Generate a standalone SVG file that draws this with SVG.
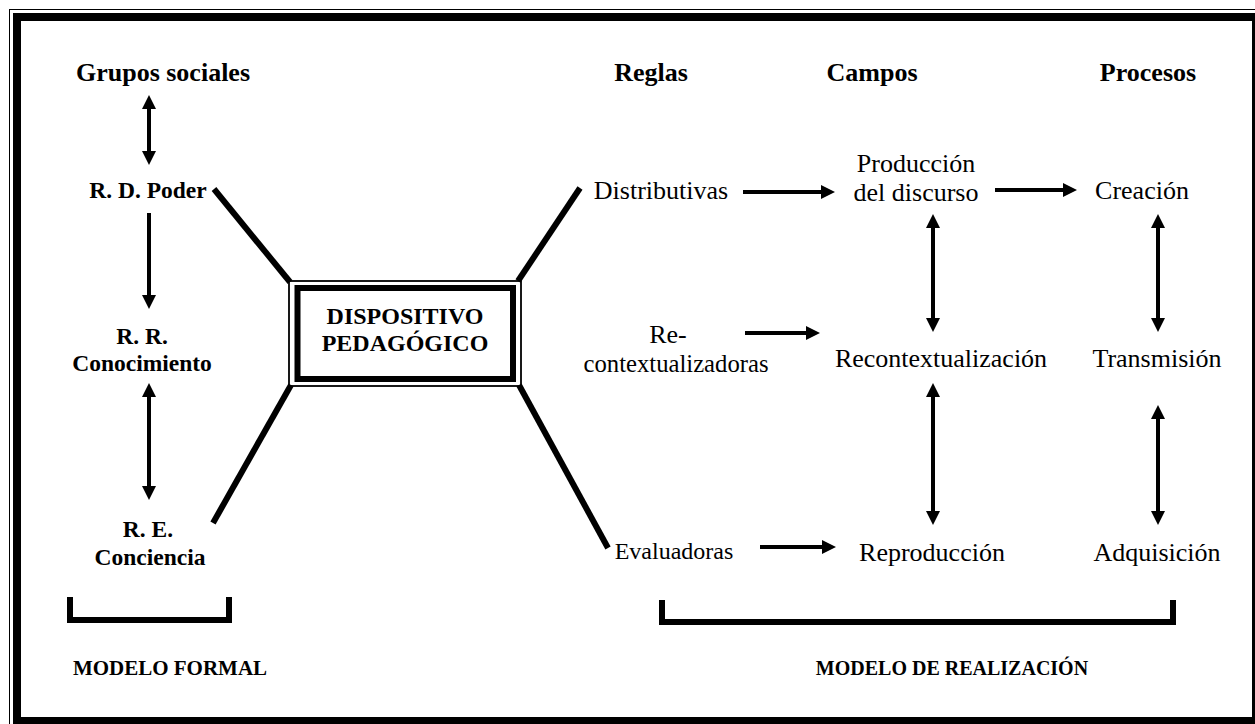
<svg xmlns="http://www.w3.org/2000/svg" width="1255" height="724" viewBox="0 0 1255 724">
<style>
.hd{font-family:"Liberation Serif","Times New Roman",serif;font-weight:bold;font-size:26px;text-anchor:middle;fill:#000}
.lb{font-family:"Liberation Serif","Times New Roman",serif;font-weight:bold;font-size:23.5px;text-anchor:middle;fill:#000}
.bx{font-family:"Liberation Serif","Times New Roman",serif;font-weight:bold;font-size:24px;text-anchor:middle;fill:#000}
.rg{font-family:"Liberation Serif","Times New Roman",serif;font-size:26px;text-anchor:middle;fill:#000}
.md{font-family:"Liberation Serif","Times New Roman",serif;font-weight:bold;text-anchor:middle;fill:#000}
.ar{stroke:#000;stroke-width:4;fill:none}
.ln{stroke:#000;stroke-width:6;fill:none}
</style>
<defs>
<marker id="ah" viewBox="0 0 14 14" markerUnits="userSpaceOnUse" markerWidth="14" markerHeight="14" refX="2" refY="7" orient="auto-start-reverse">
<path d="M0,0 L14,7 L0,14 z" fill="#000"/>
</marker>
</defs>
<rect width="1255" height="724" fill="#fff"/>
<g id="frame">
<rect x="9.5" y="9.5" width="1260" height="720" fill="none" stroke="#000" stroke-width="1"/>
<rect x="17" y="17" width="1239" height="704" fill="none" stroke="#000" stroke-width="8"/>
</g>
<g id="headers">
<text class="hd" x="163" y="81">Grupos sociales</text>
<text class="hd" x="651" y="81">Reglas</text>
<text class="hd" x="872" y="81">Campos</text>
<text class="hd" x="1148" y="81">Procesos</text>
</g>
<g id="n-poder"><text class="lb" x="148" y="198">R. D. Poder</text></g>
<g id="n-conocimiento"><text class="lb" x="142" y="344">R. R.</text><text class="lb" x="142" y="371">Conocimiento</text></g>
<g id="n-conciencia"><text class="lb" x="148" y="537">R. E.</text><text class="lb" x="150" y="565">Conciencia</text></g>
<g id="n-dispositivo">
<rect x="289" y="281" width="232" height="105" fill="#fff" stroke="#000" stroke-width="1.8"/>
<rect x="297.5" y="288" width="215.5" height="91" fill="none" stroke="#000" stroke-width="6"/>
<text class="bx" x="405" y="324">DISPOSITIVO</text>
<text class="bx" x="405" y="351">PEDAGÓGICO</text>
</g>
<g id="n-distributivas"><text class="rg" x="661" y="199">Distributivas</text></g>
<g id="n-recontextualizadoras"><text class="rg" x="668" y="343">Re-</text><text class="rg" x="676" y="372" textLength="185" lengthAdjust="spacingAndGlyphs">contextualizadoras</text></g>
<g id="n-evaluadoras"><text class="rg" x="674" y="559" style="font-size:24px">Evaluadoras</text></g>
<g id="n-produccion"><text class="rg" x="916" y="172">Producción</text><text class="rg" x="916" y="201">del discurso</text></g>
<g id="n-recontextualizacion"><text class="rg" x="941" y="367">Recontextualización</text></g>
<g id="n-reproduccion"><text class="rg" x="932" y="561">Reproducción</text></g>
<g id="n-creacion"><text class="rg" x="1142" y="199">Creación</text></g>
<g id="n-transmision"><text class="rg" x="1157" y="367">Transmisión</text></g>
<g id="n-adquisicion"><text class="rg" x="1157" y="561">Adquisición</text></g>
<g id="connectors">
<line class="ar" x1="149" y1="107" x2="149" y2="153" marker-start="url(#ah)" marker-end="url(#ah)"/>
<line class="ar" x1="149" y1="213" x2="149" y2="297" marker-end="url(#ah)"/>
<line class="ar" x1="149" y1="395" x2="149" y2="488" marker-start="url(#ah)" marker-end="url(#ah)"/>
<line class="ln" x1="214" y1="189" x2="290" y2="282"/>
<line class="ln" x1="213" y1="523" x2="291" y2="385"/>
<line class="ln" x1="518" y1="281" x2="580" y2="188"/>
<line class="ln" x1="519" y1="385" x2="608" y2="548"/>
<line class="ar" x1="743" y1="192" x2="823" y2="192" marker-end="url(#ah)"/>
<line class="ar" x1="995" y1="190" x2="1065" y2="190" marker-end="url(#ah)"/>
<line class="ar" x1="745" y1="333" x2="808" y2="333" marker-end="url(#ah)"/>
<line class="ar" x1="760" y1="547" x2="824" y2="547" marker-end="url(#ah)"/>
<line class="ar" x1="933" y1="226" x2="933" y2="320" marker-start="url(#ah)" marker-end="url(#ah)"/>
<line class="ar" x1="933" y1="395" x2="933" y2="513" marker-start="url(#ah)" marker-end="url(#ah)"/>
<line class="ar" x1="1158" y1="226" x2="1158" y2="320" marker-start="url(#ah)" marker-end="url(#ah)"/>
<line class="ar" x1="1158" y1="417" x2="1158" y2="513" marker-start="url(#ah)" marker-end="url(#ah)"/>
</g>
<g id="brackets">
<path class="ln" d="M70,597 V620 H229 V597"/>
<path class="ln" d="M662,600 V622 H1173 V600"/>
<text class="md" x="170" y="675" style="font-size:21px">MODELO FORMAL</text>
<text class="md" x="952" y="675" style="font-size:20px">MODELO DE REALIZACIÓN</text>
</g>
</svg>
